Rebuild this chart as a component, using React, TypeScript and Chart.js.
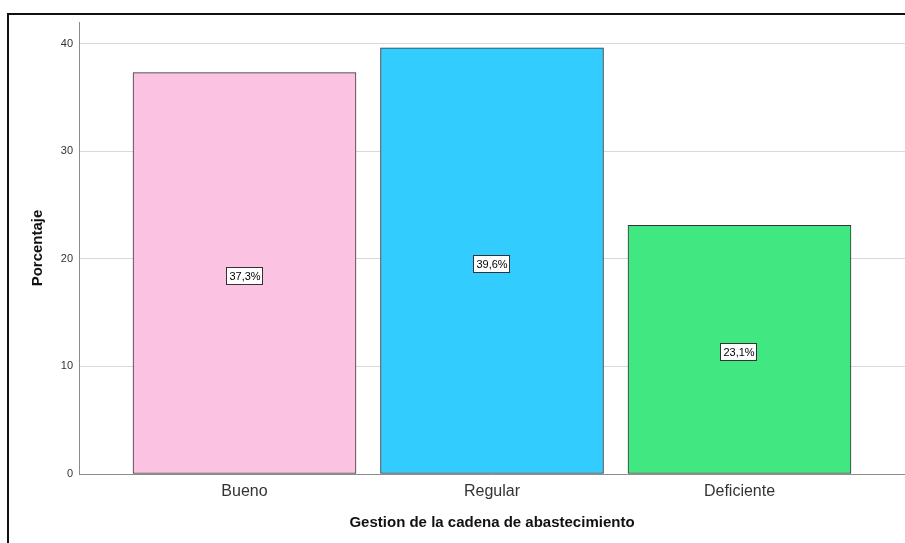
import React, { useEffect, useRef } from "react";
import { Chart, registerables } from "chart.js";

Chart.register(...registerables);

const categories = ["Bueno", "Regular", "Deficiente"];
const percentages = [37.3, 39.6, 23.1];
const valueLabels = ["37,3%", "39,6%", "23,1%"];
const barColors = ["#fcc2e1", "#33ccff", "#41e882"];
const yTickValues = [0, 10, 20, 30, 40];

const FONT = "'Liberation Sans', Arial, sans-serif";

const labelPlugin = {
  id: "boxLabels",
  afterDatasetsDraw(chart: any) {
    const ctx = chart.ctx;
    const meta = chart.getDatasetMeta(0);
    ctx.save();
    ctx.font = `11px ${FONT}`;
    ctx.textAlign = "center";
    ctx.textBaseline = "middle";
    meta.data.forEach((bar: any, i: number) => {
      const text = valueLabels[i];
      const cy = Math.round((bar.y + bar.base) / 2 + 3);
      const cx = Math.round(bar.x);
      const w = Math.round(ctx.measureText(text).width + 6);
      const h = 18;
      const x0 = cx - Math.round(w / 2);
      const y0 = cy - Math.round(h / 2);
      ctx.fillStyle = "#ffffff";
      ctx.fillRect(x0, y0, w, h);
      ctx.strokeStyle = "#333333";
      ctx.lineWidth = 1;
      ctx.strokeRect(x0 + 0.5, y0 + 0.5, w - 1, h - 1);
      ctx.fillStyle = "#000000";
      ctx.fillText(text, cx, cy + 1);
    });
    ctx.restore();
  },
};

export default function App() {
  const canvasRef = useRef<HTMLCanvasElement | null>(null);

  useEffect(() => {
    document.body.style.margin = "0";
    const canvas = canvasRef.current;
    if (!canvas) return;
    const chart = new Chart(canvas, {
      type: "bar",
      data: {
        datasets: [
          {
            data: percentages.map((v, i) => ({ x: i, y: v })),
            backgroundColor: barColors,
            borderColor: "#333333",
            borderWidth: 1,
            borderSkipped: false,
            barThickness: 223,
          },
        ],
      },
      options: {
        responsive: false,
        animation: false,
        events: [],
        layout: { padding: { top: 22, right: 0, left: 0, bottom: 0 } },
        plugins: {
          legend: { display: false },
          tooltip: { enabled: false },
        },
        scales: {
          x: {
            type: "linear",
            offset: false,
            min: -0.6687,
            max: 2.6687,
            grid: { display: false, drawTicks: false },
            border: { display: true, color: "#8c8c8c", width: 1 },
            afterBuildTicks: (scale: any) => {
              scale.ticks = categories.map((_, i) => ({ value: i }));
            },
            afterFit: (scale: any) => {
              scale.height = 69;
            },
            ticks: {
              autoSkip: false,
              maxRotation: 0,
              padding: 8,
              color: "#333333",
              font: { family: FONT, size: 16 },
              callback: (v: any) => categories[v] ?? "",
            },
            title: {
              display: true,
              text: "Gestion de la cadena de abastecimiento",
              color: "#111111",
              font: { family: FONT, size: 15, weight: "bold" },
              padding: { top: 0, bottom: 11 },
            },
          },
          y: {
            min: 0,
            max: 42,
            grid: { color: "#d9d9d9", lineWidth: 1, drawTicks: false },
            border: { display: true, color: "#8c8c8c", width: 1 },
            afterBuildTicks: (scale: any) => {
              scale.ticks = yTickValues.map((v) => ({ value: v }));
            },
            afterFit: (scale: any) => {
              scale.width = 79;
            },
            ticks: {
              padding: 6,
              color: "#333333",
              font: { family: FONT, size: 11 },
            },
            title: {
              display: true,
              text: "Porcentaje",
              color: "#111111",
              font: { family: FONT, size: 15, weight: "bold" },
              padding: { top: 29, bottom: 0 },
            },
          },
        },
      } as any,
      plugins: [labelPlugin],
    });
    return () => chart.destroy();
  }, []);

  return (
    <div style={{ position: "relative", width: 905, height: 543, overflow: "hidden", background: "#ffffff" }}>
      <canvas ref={canvasRef} width={905} height={543} style={{ display: "block" }} />
      <div
        style={{
          position: "absolute",
          left: 7,
          top: 13,
          width: 920,
          height: 560,
          borderLeft: "2px solid #111",
          borderTop: "2px solid #111",
          pointerEvents: "none",
        }}
      />
    </div>
  );
}
